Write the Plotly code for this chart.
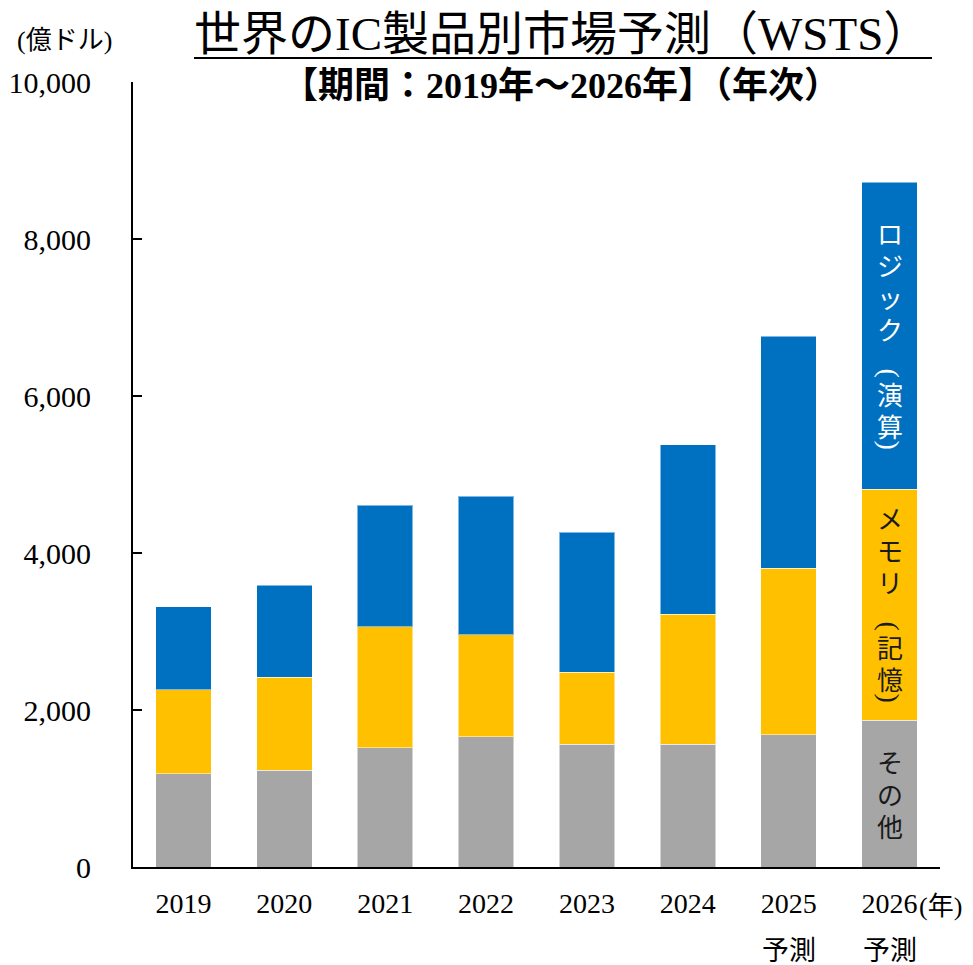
import plotly.graph_objects as go

# ---------------- data ----------------
years = ["2019", "2020", "2021", "2022", "2023", "2024", "2025", "2026"]
tick_labels = ["2019", "2020", "2021", "2022", "2023", "2024", "2025", "2026"]
forecast_notes = ["", "", "", "", "", "", "予測", "予測"]
other = [1185, 1232, 1520, 1660, 1563, 1563, 1686, 1869]    # その他
memory = [1070, 1188, 1541, 1299, 917, 1656, 2119, 2946]    # メモリ（記憶）
logic = [1061, 1172, 1550, 1767, 1784, 2161, 2959, 3911]    # ロジック（演算）
y_ticks = [0, 2000, 4000, 6000, 8000, 10000]

series_names = ["その他", "メモリ（記憶）", "ロジック（演算）"]
series_colors = ["#A6A6A6", "#FFC000", "#0070C0"]
label_chars = [["そ", "の", "他"],
               ["メ", "モ", "リ", "︵", "記", "憶", "︶"],
               ["ロ", "ジ", "ッ", "ク", "︵", "演", "算", "︶"]]
label_colors = ["#1a1a1a", "#1a1a1a", "#ffffff"]

title_text = "世界のIC製品別市場予測（WSTS）"
subtitle_text = "<b>【期間：2019年～2026年】（年次）</b>"
unit_text = "(億ドル)"
year_unit_text = "(年)"

# ---------------- layout constants ----------------
PAGE_W, PAGE_H = 973, 965
BODY = 8                       # default page body margin
W, H = PAGE_W - BODY, PAGE_H - BODY
PX_L, PX_R, PX_T, PX_B = 133, 940, 82, 867   # plot area in page pixels
L, R, T, B = PX_L - BODY, PAGE_W - PX_R, PX_T - BODY, PAGE_H - PX_B
SERIF = "Liberation Serif, Noto Sans CJK JP, serif"
CJK = "Noto Sans CJK JP, sans-serif"
OPEN_V, CLOSE_V = "︵", "︶"


def px_x(p):
    return (p - PX_L) / (PX_R - PX_L)


def px_y(p):
    return (PX_B - p) / (PX_B - PX_T)


fig = go.Figure()
for name, vals, col in zip(series_names, [other, memory, logic], series_colors):
    fig.add_trace(go.Bar(
        x=years, y=vals, name=name,
        marker=dict(color=col, line=dict(color="rgba(255,255,255,0.5)", width=1)),
    ))

annotations = []
# vertical in-bar labels on last bar, centred on each segment
last = len(years) - 1
bases = [0, other[last], other[last] + memory[last]]
heights = [other[last], memory[last], logic[last]]
for chars, base, h, col in zip(label_chars, bases, heights, label_colors):
    mid = base + h / 2
    # vertical-writing glyph centres (pixels down from first glyph)
    centers = [0.0]
    for prev, nxt in zip(chars[:-1], chars[1:]):
        if nxt == OPEN_V:
            gap = 45
        elif prev == OPEN_V or nxt == CLOSE_V:
            gap = 20
        else:
            gap = 32
        centers.append(centers[-1] + gap)
    top = -13
    bottom = centers[-1] + (7 if chars[-1] in (OPEN_V, CLOSE_V) else 13)
    shift0 = (top + bottom) / 2
    for c, cy in zip(chars, centers):
        ys = shift0 - cy
        if c in (OPEN_V, CLOSE_V):
            annotations.append(dict(
                x=last, y=mid, xref="x", yref="y",
                text="(" if c == OPEN_V else ")", textangle=90, showarrow=False,
                yshift=ys, yanchor="middle", xanchor="center",
                font=dict(family=SERIF, size=28, color=col),
            ))
        else:
            annotations.append(dict(
                x=last, y=mid, xref="x", yref="y", text=c, showarrow=False,
                yshift=ys, yanchor="middle", xanchor="center",
                font=dict(family=CJK, size=26, color=col),
            ))

# 予測 notes beneath forecast years
for i, note in enumerate(forecast_notes):
    if note:
        annotations.append(dict(
            x=i, y=px_y(951), xref="x", yref="paper", text=note, showarrow=False,
            xanchor="center", yanchor="middle",
            font=dict(family=SERIF, size=27, color="black"),
        ))

annotations += [
    dict(x=px_x(562), y=px_y(34), xref="paper", yref="paper", text=title_text,
         showarrow=False, xanchor="center", yanchor="middle",
         font=dict(family=SERIF, size=47, color="black")),
    dict(x=px_x(561), y=px_y(86), xref="paper", yref="paper", text=subtitle_text,
         showarrow=False, xanchor="center", yanchor="middle",
         font=dict(family=SERIF, size=36, color="black")),
    dict(x=px_x(64), y=px_y(40), xref="paper", yref="paper", text=unit_text,
         showarrow=False, xanchor="center", yanchor="middle",
         font=dict(family=SERIF, size=26, color="black")),
    dict(x=px_x(940), y=px_y(906), xref="paper", yref="paper", text=year_unit_text,
         showarrow=False, xanchor="center", yanchor="middle",
         font=dict(family=SERIF, size=26, color="black")),
]

fig.update_layout(
    width=W, height=H,
    margin=dict(l=L, r=R, t=T, b=B, pad=0, autoexpand=False),
    barmode="stack", bargap=0.45,
    plot_bgcolor="white", paper_bgcolor="white",
    showlegend=False,
    annotations=annotations,
    shapes=[dict(type="line", xref="paper", yref="paper",
                 x0=px_x(194), x1=px_x(932), y0=px_y(58), y1=px_y(58),
                 line=dict(color="black", width=2))],
)
fig.update_xaxes(
    type="category", automargin=False, range=[-0.5, len(years) - 0.5],
    showline=True, linecolor="black", linewidth=2,
    ticks="", tickmode="array", tickvals=years, ticktext=tick_labels,
    tickfont=dict(family=SERIF, size=28, color="black"),
    ticklabelstandoff=10, showgrid=False, zeroline=False,
)
fig.update_yaxes(
    automargin=False,
    range=[0, 10000], showline=True, linecolor="black", linewidth=2,
    ticks="inside", ticklen=9, tickwidth=2, tickcolor="black",
    tickmode="array", tickvals=y_ticks, tickformat=",d",
    tickfont=dict(family=SERIF, size=30, color="black"),
    ticklabelstandoff=34, showgrid=False, zeroline=False,
)

fig.write_html("out.html")
